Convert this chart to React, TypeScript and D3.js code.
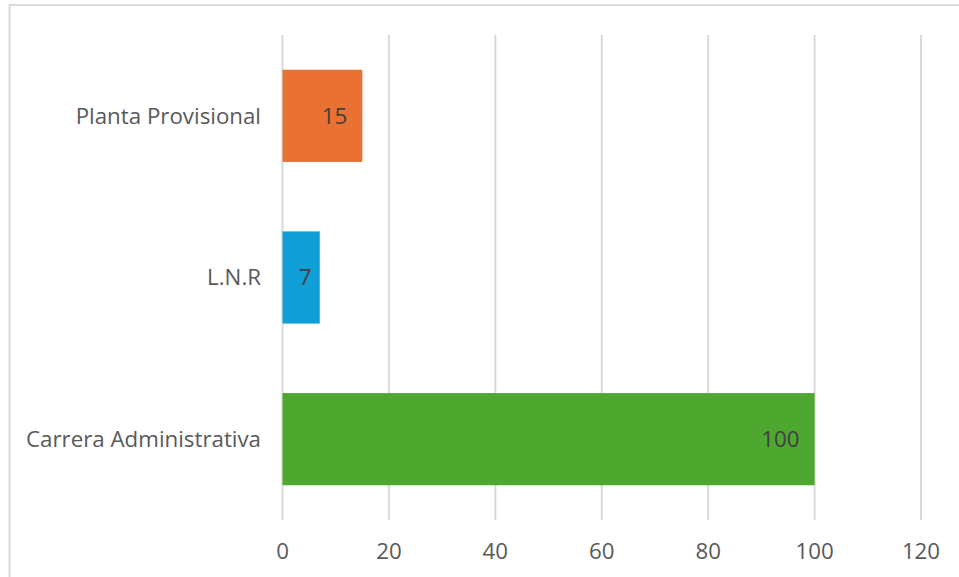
import React from "react";
import * as d3 from "d3";

const categories = ["Planta Provisional", "L.N.R", "Carrera Administrativa"];
const values = [15, 7, 100];
const colors = ["#E97132", "#0F9ED5", "#4EA72E"];
const xTicks = [0, 20, 40, 60, 80, 100, 120];

const W = 959;
const H = 577;
const FONT = "'Open Sans', 'Noto Sans', sans-serif";
const FS = 22.3;

export default function App() {
  const x = d3.scaleLinear().domain([0, 120]).range([282.5, 921]);
  const y = d3.scaleBand<string>().domain(categories).range([35, 520]).paddingInner(0.43).paddingOuter(0.215);

  return (
    <svg
      width={W}
      height={H}
      style={{ position: "absolute", left: 0, top: 0, background: "#fff" }}
    >
      <rect x={0} y={0} width={W} height={H} fill="#fff" />
      {/* chart frame */}
      <rect x={9.5} y={5} width={W + 20} height={H + 20} fill="none" stroke="#d9d9d9" strokeWidth={2} />
      {/* gridlines */}
      {xTicks.map((t) => (
        <line key={t} x1={x(t)} x2={x(t)} y1={35} y2={520} stroke="#d9d9d9" strokeWidth={2} />
      ))}
      {/* bars */}
      {categories.map((c, i) => (
        <rect
          key={c}
          x={x(0)}
          y={y(c)}
          width={x(values[i]) - x(0)}
          height={y.bandwidth()}
          fill={colors[i]}
        />
      ))}
      {/* data labels */}
      {categories.map((c, i) => (
        <text
          key={c}
          x={Math.max(x(values[i]) - 15, x(0) + 29)}
          y={(y(c) as number) + y.bandwidth() / 2}
          dy="0.35em"
          textAnchor="end"
          fontFamily={FONT}
          fontSize={FS}
          fill="#404040"
        >
          {values[i]}
        </text>
      ))}
      {/* category labels */}
      {categories.map((c) => (
        <text
          key={c}
          x={261}
          y={(y(c) as number) + y.bandwidth() / 2}
          dy="0.35em"
          textAnchor="end"
          fontFamily={FONT}
          fontSize={FS}
          fill="#595959"
        >
          {c}
        </text>
      ))}
      {/* x tick labels */}
      {xTicks.map((t) => (
        <text
          key={t}
          x={x(t)}
          y={551}
          dy="0.35em"
          textAnchor="middle"
          fontFamily={FONT}
          fontSize={FS}
          fill="#595959"
        >
          {t}
        </text>
      ))}
    </svg>
  );
}
